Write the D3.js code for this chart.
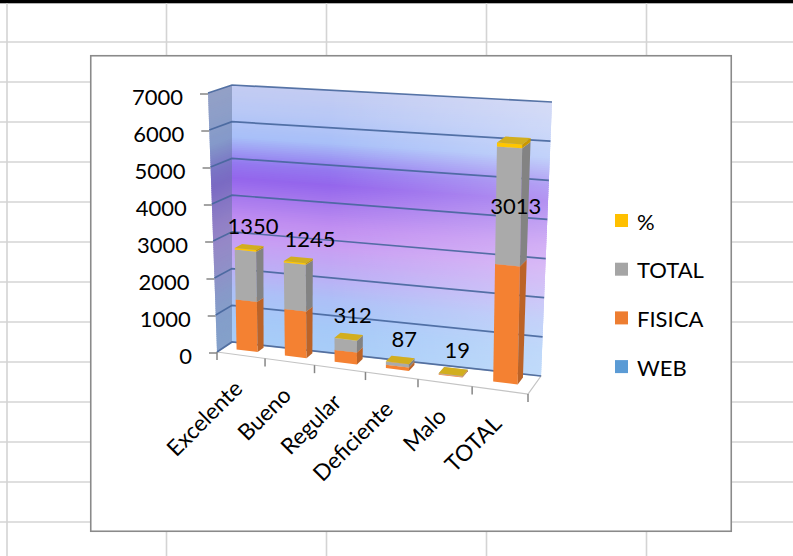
<!DOCTYPE html>
<html>
<head>
<meta charset="utf-8">
<script src="https://cdn.jsdelivr.net/npm/d3@7"></script>
<style>
  html, body { margin: 0; padding: 0; background: #fff; }
  svg { display: block; font-family: Lato, "Open Sans", sans-serif; }
</style>
</head>
<body>
<svg id="chart" width="793" height="556"></svg>
<script>
// ---- data ----
const categories = ["Excelente", "Bueno", "Regular", "Deficiente", "Malo", "TOTAL"];
const web    = [0, 0, 0, 0, 0, 0];
const fisica = [1350, 1245, 312, 87, 19, 3013];
const total  = [1350, 1245, 312, 87, 19, 3013];
const pct    = [44.8, 41.3, 10.4, 2.9, 0.6, 100];
const seriesKeys = ["WEB", "FISICA", "TOTAL", "%"];
const legendOrder = ["%", "TOTAL", "FISICA", "WEB"];
const yTicks = [0, 1000, 2000, 3000, 4000, 5000, 6000, 7000];
const yMax = 7000;

const colors = { "WEB": "#5B9BD5", "FISICA": "#ED7D31", "TOTAL": "#A5A5A5", "%": "#FFC000" };

const svg = d3.select("#chart");

// ---- worksheet background ----
const sheet = svg.append("g");
sheet.append("rect").attr("x", 0).attr("y", 0).attr("width", 793).attr("height", 3.3).attr("fill", "#000");
d3.range(42, 556, 40).forEach(y => {
  sheet.append("line").attr("x1", 0).attr("x2", 793).attr("y1", y).attr("y2", y)
    .attr("stroke", "#d4d4d4").attr("stroke-width", 1.6);
});
[7, 166.5, 326.5, 486.5, 646.5].forEach(x => {
  sheet.append("line").attr("x1", x).attr("x2", x).attr("y1", 3.3).attr("y2", 556)
    .attr("stroke", "#d4d4d4").attr("stroke-width", 1.6);
});

// chart area
svg.append("rect").attr("x", 90.75).attr("y", 55.75).attr("width", 640.5).attr("height", 475.5)
  .attr("fill", "#fff").attr("stroke", "#8a8a8a").attr("stroke-width", 1.6);

// ---- 3D plot box: screen positions of the eight corners ----
// f/b = front/back, l/r = left/right, b/t = bottom/top
const corner = {
  flb: [217, 352], frb: [528, 394], blb: [232, 342], brb: [541, 376],
  flt: [208, 93],  frt: [530, 118], blt: [232, 85],  brt: [552, 102]
};
const lerp = (a, b, t) => [a[0] + (b[0] - a[0]) * t, a[1] + (b[1] - a[1]) * t];
// slight foreshortening across the category axis
const foreshorten = u => { const k = 0.9135; return k * u / (1 + (k - 1) * u); };
// u: across categories, v: value height, w: depth (0 front, 1 back)
function P(u, v, w) {
  const s = foreshorten(u);
  const bot = lerp(lerp(corner.flb, corner.frb, s), lerp(corner.blb, corner.brb, s), w);
  const top = lerp(lerp(corner.flt, corner.frt, s), lerp(corner.blt, corner.brt, s), w);
  return lerp(bot, top, v);
}
const poly = pts => pts.map(p => p.join(",")).join(" ");

const xScale = d3.scaleBand().domain(categories).range([0, 1]).paddingInner(0.56).paddingOuter(0.28);
const yScale = d3.scaleLinear().domain([0, yMax]).range([0, 1]);
const depthFront = 0.42, depthBack = 0.82;

// ---- walls ----
const defs = svg.append("defs");
const wallColor = d3.scaleLinear()
  .domain([0, 0.1, 0.2, 0.3, 0.4, 0.48, 0.56, 0.64, 0.7, 0.8, 0.9, 1])
  .range(["#a8cdf8", "#a6c9f8", "#adc0f7", "#bdaef5", "#c89ef3", "#c08ef1",
          "#a97bee", "#9466ec", "#9479ef", "#a8bff8", "#b8c8f6", "#c4ccf2"])
  .interpolate(d3.interpolateRgb);

const walls = svg.append("g");
const nStrips = 140;
d3.range(nStrips).forEach(i => {
  const v0 = i / nStrips, v1 = Math.min(1, (i + 1.6) / nStrips);
  const c = wallColor((v0 + v1) / 2);
  // back wall strip
  walls.append("polygon")
    .attr("points", poly([P(0, v0, 1), P(1, v0, 1), P(1, v1, 1), P(0, v1, 1)]))
    .attr("fill", c);
  // side wall strip
  walls.append("polygon")
    .attr("points", poly([P(0, v0, 0), P(0, v0, 1), P(0, v1, 1), P(0, v1, 0)]))
    .attr("fill", d3.interpolateRgb(d3.color(c).darker(0.6), "#7f98cc")(0.35));
});

const sheen = defs.append("linearGradient").attr("id", "sheen")
  .attr("gradientUnits", "userSpaceOnUse").attr("x1", 232).attr("x2", 552).attr("y1", 0).attr("y2", 0);
sheen.append("stop").attr("offset", 0.3).attr("stop-color", "#fff").attr("stop-opacity", 0);
sheen.append("stop").attr("offset", 1).attr("stop-color", "#fff").attr("stop-opacity", 0.3);
walls.append("polygon")
  .attr("points", poly([P(0, 0, 1), P(1, 0, 1), P(1, 1, 1), P(0, 1, 1)]))
  .attr("fill", "url(#sheen)");

// floor
walls.append("polygon")
  .attr("points", poly([P(0, 0, 0), P(1, 0, 0), P(1, 0, 1), P(0, 0, 1)]))
  .attr("fill", "#fff").attr("stroke", "#c4c4c4").attr("stroke-width", 1.2);

// gridlines on back and side walls
const grid = svg.append("g").attr("fill", "none");
yTicks.forEach(t => {
  const v = yScale(t);
  grid.append("polyline")
    .attr("points", poly([P(0, v, 0), P(0, v, 1), P(1, v, 1)]))
    .attr("stroke", "#46669c").attr("stroke-width", 1.7).attr("stroke-opacity", 0.9);
});

// value axis ticks and labels
const yAxis = svg.append("g");
yTicks.forEach(t => {
  const p = P(0, yScale(t), 0);
  yAxis.append("line").attr("x1", p[0] - 8).attr("x2", p[0]).attr("y1", p[1] + 1).attr("y2", p[1] + 1)
    .attr("stroke", "#868686").attr("stroke-width", 1.5);
  yAxis.append("text").attr("x", p[0] - 25).attr("y", p[1] + 12)
    .attr("text-anchor", "end").attr("font-size", 22).attr("fill", "#000").text(t);
});

// category axis ticks and labels
const xAxis = svg.append("g");
d3.range(categories.length + 1).forEach(k => {
  const p = P(k / categories.length, 0, 0);
  xAxis.append("line").attr("x1", p[0]).attr("x2", p[0]).attr("y1", p[1]).attr("y2", p[1] + 8)
    .attr("stroke", "#868686").attr("stroke-width", 1.5);
});
categories.forEach(c => {
  const p = P(xScale(c) + xScale.bandwidth() / 2, 0, 0);
  xAxis.append("text")
    .attr("transform", `translate(${p[0] + 3},${p[1] + 35}) rotate(-45)`)
    .attr("text-anchor", "end").attr("font-size", 22.5).attr("fill", "#000").text(c);
});

// ---- stacked 3D columns ----
const rows = categories.map((c, i) => ({ cat: c, "WEB": web[i], "FISICA": fisica[i], "TOTAL": total[i], "%": pct[i] }));
const stacked = d3.stack().keys(seriesKeys)(rows);

const bars = svg.append("g");
categories.forEach((c, i) => {
  const u0 = xScale(c), u1 = u0 + xScale.bandwidth();
  const g = bars.append("g");
  stacked.forEach(layer => {
    const [y0, y1] = layer[i];
    if (y1 - y0 <= 0) return;
    const v0 = yScale(y0), v1 = yScale(y1);
    const base = d3.color(colors[layer.key]);
    const zf = depthFront, zb = depthBack;
    g.append("polygon") // front
      .attr("points", poly([P(u0, v0, zf), P(u1, v0, zf), P(u1, v1, zf), P(u0, v1, zf)]))
      .attr("fill", base.brighter(0.08));
    g.append("polygon") // right side
      .attr("points", poly([P(u1, v0, zf), P(u1, v0, zb), P(u1, v1, zb), P(u1, v1, zf)]))
      .attr("fill", base.darker(0.65));
    g.append("polygon") // top
      .attr("points", poly([P(u0, v1, zf), P(u1, v1, zf), P(u1, v1, zb), P(u0, v1, zb)]))
      .attr("fill", layer.key === "%" ? "#d2ae1e" : base.brighter(0.3));
  });
});

// value labels above each column (kept below the 3900 level);
// a label that would collide with its left neighbour is pushed right
const labelCap = 3900;
const stackTop = i => stacked[stacked.length - 1][i][1];
const labels = categories.map((c, i) => {
  const um = xScale(c) + xScale.bandwidth() / 2;
  const p = P(um, yScale(Math.min(stackTop(i), labelCap)), (depthFront + depthBack) / 2);
  return { x: p[0] + 4, y: p[1] - 13, text: String(total[i]) };
});
const labelSel = svg.append("g").selectAll("text").data(labels).join("text")
  .attr("x", d => d.x).attr("y", d => d.y)
  .attr("text-anchor", "middle").attr("font-size", 22).attr("fill", "#000").text(d => d.text);
const widths = labelSel.nodes().map(n => n.getComputedTextLength());
for (let i = 1; i < labels.length; i++) {
  const a = labels[i - 1], b = labels[i];
  const need = (widths[i - 1] + widths[i]) / 2 + 6;
  if (Math.abs(a.y - b.y) < 20 && b.x - a.x < need) b.x = a.x + need;
}
labelSel.attr("x", d => d.x);

// ---- legend ----
const legend = svg.append("g");
legendOrder.forEach((k, i) => {
  const y = 214 + i * 48.7;
  legend.append("rect").attr("x", 615).attr("y", y).attr("width", 13).attr("height", 13).attr("fill", colors[k]);
  legend.append("text").attr("x", 637).attr("y", y + 15.5).attr("font-size", 22).attr("fill", "#000").text(k);
});
</script>
</body>
</html>
